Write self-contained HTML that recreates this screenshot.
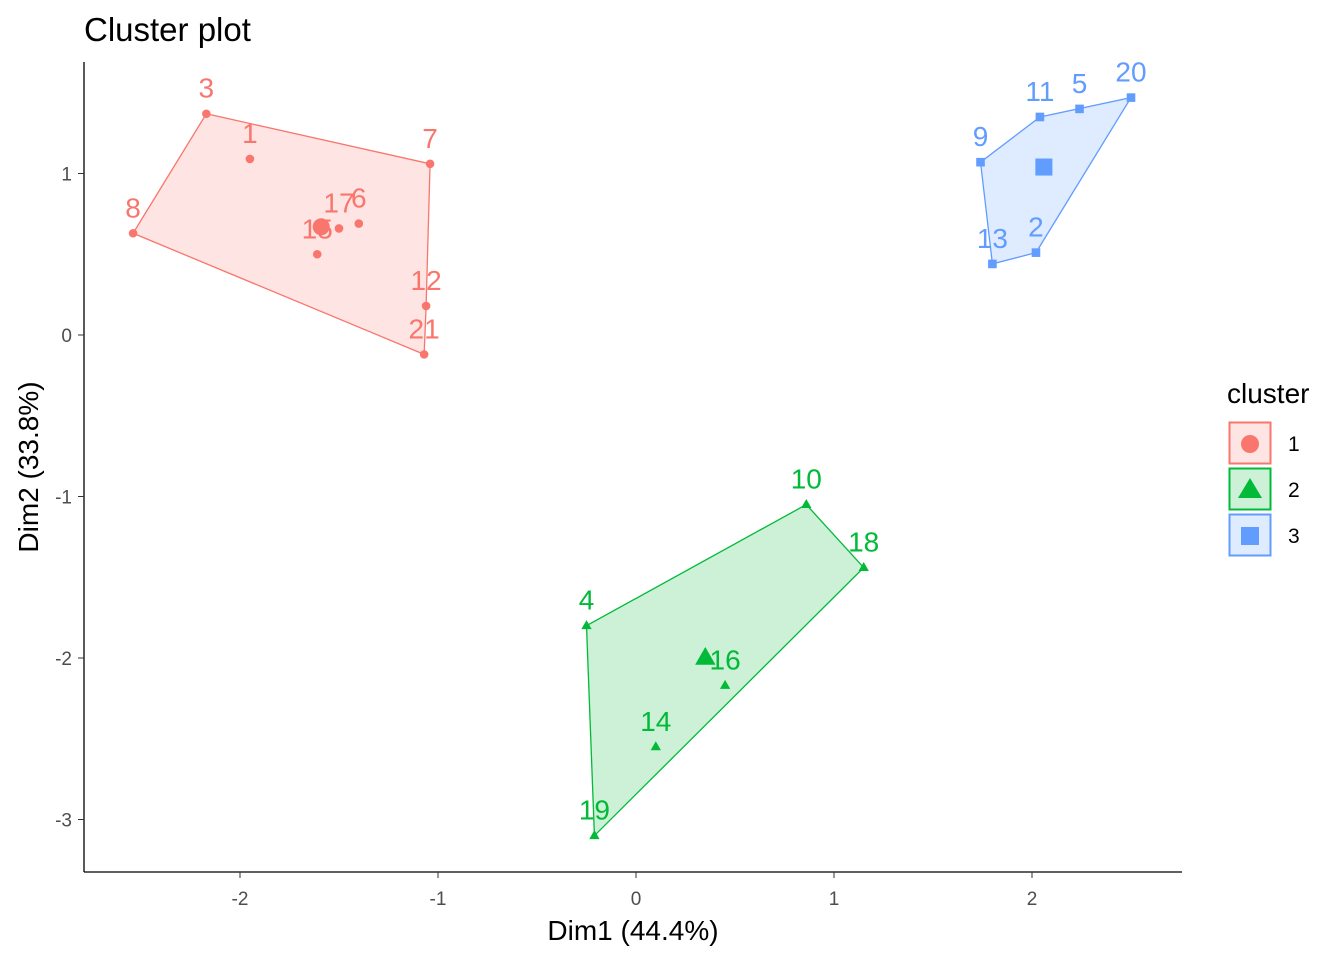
<!DOCTYPE html>
<html><head><meta charset="utf-8"><style>
body{margin:0;background:#fff;font-family:"Liberation Sans",Arial,sans-serif}
svg{display:block}
</style></head><body>
<svg id="chart" width="1344" height="960"></svg>
<script>
const ptIds=["1","2","3","4","5","6","7","8","9","10","11","12","13","14","15","16","17","18","19","20","21"];
const ptX=[-1.95,2.02,-2.17,-0.25,2.24,-1.40,-1.04,-2.54,1.74,0.86,2.04,-1.06,1.80,0.10,-1.61,0.45,-1.50,1.15,-0.21,2.50,-1.07];
const ptY=[1.09,0.51,1.37,-1.80,1.40,0.69,1.06,0.63,1.07,-1.05,1.35,0.18,0.44,-2.55,0.50,-2.17,0.66,-1.44,-3.10,1.47,-0.12];
const ptCluster=[1,3,1,2,3,1,1,1,3,2,3,1,3,2,1,2,1,2,2,3,1];
const centerX=[-1.59,0.35,2.06];
const centerY=[0.67,-2.00,1.04];
const xTicks=[-2,-1,0,1,2];
const yTicks=[1,0,-1,-2,-3];
const colors=["#F8766D","#00BA38","#619CFF"];
const NS="http://www.w3.org/2000/svg";
const svg=document.getElementById('chart');
const sx=v=>636+v*198, sy=v=>335-v*161.5;
function mk(t,a,p){const e=document.createElementNS(NS,t);for(const k in a)e.setAttribute(k,a[k]);(p||svg).appendChild(e);return e;}
function hull(pts){pts=pts.slice().sort((a,b)=>a[0]-b[0]||a[1]-b[1]);const cr=(o,a,b)=>(a[0]-o[0])*(b[1]-o[1])-(a[1]-o[1])*(b[0]-o[0]);const lo=[],up=[];for(const p of pts){while(lo.length>=2&&cr(lo[lo.length-2],lo[lo.length-1],p)<=0)lo.pop();lo.push(p);}for(let i=pts.length-1;i>=0;i--){const p=pts[i];while(up.length>=2&&cr(up[up.length-2],up[up.length-1],p)<=0)up.pop();up.push(p);}up.pop();lo.pop();return lo.concat(up);}
let ax=mk('line',{x1:84,y1:62,x2:84,y2:872,stroke:'#000','stroke-width':1.3});

ax=mk('line',{x1:84,y1:872,x2:1182,y2:872,stroke:'#000','stroke-width':1.3});

xTicks.forEach(v=>{const x=sx(v);const l=mk('line',{x1:x,y1:872,x2:x,y2:878,stroke:'#333'});
const t=mk('text',{x:x,y:905,'text-anchor':'middle','font-size':19,fill:'#4d4d4d'});t.textContent=v;});
yTicks.forEach(v=>{const y=sy(v);const l=mk('line',{x1:78,y1:y,x2:84,y2:y,stroke:'#333'});
const t=mk('text',{x:72,y:y+7,'text-anchor':'end','font-size':19,fill:'#4d4d4d'});t.textContent=v;});
let t=mk('text',{x:633,y:940,'text-anchor':'middle','font-size':28});t.textContent='Dim1 (44.4%)';
t=mk('text',{x:0,y:0,'text-anchor':'middle','font-size':28,transform:'translate(38,467) rotate(-90)'});t.textContent='Dim2 (33.8%)';
t=mk('text',{x:84,y:41,'font-size':33});t.textContent='Cluster plot';
for(let c=1;c<=3;c++){const pts=[];ptX.forEach((x,i)=>{if(ptCluster[i]===c)pts.push([sx(x),sy(ptY[i])]);});
const h=hull(pts);const p=mk('polygon',{points:h.map(q=>q.join(',')).join(' '),fill:colors[c-1],'fill-opacity':0.2,stroke:colors[c-1],'stroke-width':1.3});
}
function shape(c,x,y,r,name){let e;const col=colors[c-1];
if(c===1)e=mk('circle',{cx:x,cy:y,r:r,fill:col});
else if(c===2)e=mk('polygon',{points:`${x},${y-r*1.3} ${x-r*1.2},${y+r*0.8} ${x+r*1.2},${y+r*0.8}`,fill:col});
else e=mk('rect',{x:x-r,y:y-r,width:2*r,height:2*r,fill:col});
}
ptX.forEach((v,i)=>{const c=ptCluster[i],x=sx(v),y=sy(ptY[i]);shape(c,x,y,4.3,'point-'+ptIds[i]);
const l=mk('text',{x:x,y:y-16,'text-anchor':'middle','font-size':28,fill:colors[c-1]});l.textContent=ptIds[i];});
centerX.forEach((v,i)=>shape(i+1,sx(v),sy(centerY[i]),8.5,'cluster-'+(i+1)+'-center'));
t=mk('text',{x:1227,y:403,'font-size':28});t.textContent='cluster';
[1,2,3].forEach((c,i)=>{const y0=422+i*46;const g=mk('g',{});
mk('rect',{x:1229.5,y:y0+0.5,width:41,height:41,fill:colors[i],'fill-opacity':0.2,stroke:colors[i],'stroke-width':2},g);
const col=colors[i],cx=1250,cy=y0+22;
if(c===1)mk('circle',{cx:cx,cy:cy,r:9,fill:col},g);else if(c===2)mk('polygon',{points:`${cx},${cy-12} ${cx-12},${cy+8} ${cx+12},${cy+8}`,fill:col},g);else mk('rect',{x:cx-9,y:cy-9,width:18,height:18,fill:col},g);
const l=mk('text',{x:1288,y:y0+29,'font-size':21},g);l.textContent=c;});
</script>
</body></html>
